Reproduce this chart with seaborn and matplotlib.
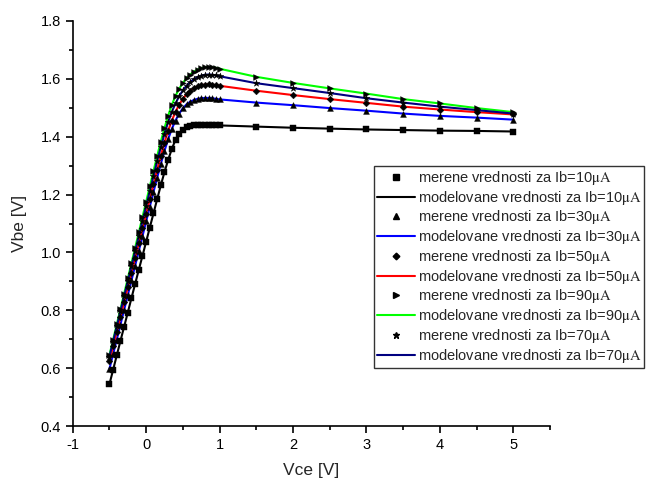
import matplotlib
matplotlib.use("Agg")
import matplotlib.pyplot as plt
from matplotlib.lines import Line2D
import seaborn as sns
import pandas as pd

# Vce [V]
vce = [-0.5, -0.45, -0.4, -0.35, -0.3, -0.25, -0.2, -0.15, -0.1, -0.05,
       0.0, 0.05, 0.1, 0.15, 0.2, 0.25, 0.3, 0.35, 0.4, 0.45,
       0.5, 0.55, 0.6, 0.65, 0.7, 0.75, 0.8, 0.85, 0.9, 0.95, 1.0,
       1.5, 2.0, 2.5, 3.0, 3.5, 4.0, 4.5, 5.0]

vbe_10 = [0.544, 0.594, 0.644, 0.694, 0.743, 0.792, 0.842, 0.891, 0.940, 0.988,
          1.037, 1.086, 1.135, 1.184, 1.232, 1.278, 1.320, 1.358, 1.389, 1.410,
          1.424, 1.432, 1.437, 1.439, 1.440, 1.441, 1.441, 1.441, 1.440, 1.440, 1.439,
          1.435, 1.431, 1.428, 1.425, 1.423, 1.421, 1.420, 1.418]
vbe_30 = [0.597, 0.648, 0.699, 0.750, 0.801, 0.852, 0.903, 0.954, 1.005, 1.056,
          1.107, 1.158, 1.209, 1.258, 1.306, 1.351, 1.392, 1.427, 1.456, 1.480,
          1.498, 1.512, 1.521, 1.527, 1.531, 1.533, 1.534, 1.534, 1.533, 1.531, 1.529,
          1.518, 1.509, 1.499, 1.490, 1.480, 1.472, 1.466, 1.459]
vbe_50 = [0.624, 0.675, 0.726, 0.777, 0.828, 0.879, 0.930, 0.981, 1.032, 1.083,
          1.134, 1.185, 1.236, 1.286, 1.334, 1.380, 1.421, 1.456, 1.486, 1.511,
          1.531, 1.547, 1.559, 1.568, 1.574, 1.578, 1.580, 1.581, 1.580, 1.578, 1.576,
          1.559, 1.544, 1.530, 1.517, 1.504, 1.494, 1.485, 1.477]
vbe_90 = [0.645, 0.698, 0.751, 0.804, 0.857, 0.910, 0.963, 1.016, 1.069, 1.122,
          1.175, 1.228, 1.281, 1.333, 1.383, 1.430, 1.473, 1.510, 1.541, 1.566,
          1.586, 1.602, 1.615, 1.625, 1.632, 1.637, 1.640, 1.641, 1.640, 1.638, 1.635,
          1.607, 1.586, 1.567, 1.549, 1.530, 1.515, 1.499, 1.485]
vbe_70 = [0.640, 0.692, 0.744, 0.796, 0.848, 0.900, 0.952, 1.004, 1.056, 1.108,
          1.160, 1.212, 1.264, 1.315, 1.364, 1.410, 1.451, 1.486, 1.515, 1.540,
          1.560, 1.576, 1.589, 1.599, 1.606, 1.611, 1.614, 1.615, 1.614, 1.612, 1.609,
          1.585, 1.568, 1.551, 1.533, 1.518, 1.504, 1.492, 1.480]

currents = ["10", "30", "50", "90", "70"]
series = [vbe_10, vbe_30, vbe_50, vbe_90, vbe_70]
markers = ["s", "^", "D", ">", "*"]
msizes = [4.2, 4.2, 3.4, 4.2, 5.0]
line_colors = ["#000000", "#0000FF", "#FF0000", "#00FF00", "#000080"]

sns.set_style("ticks")
plt.rcParams["font.family"] = ["Liberation Sans", "DejaVu Sans"]
plt.rcParams["mathtext.fontset"] = "stix"

fig = plt.figure(figsize=(6.48, 4.84), dpi=100)
ax = fig.add_axes([72.7 / 648, 1 - 426 / 484, (550 - 72.7) / 648, (426 - 21) / 484])

handles, labels = [], []
for cur, vals, mk, ms, col in zip(currents, series, markers, msizes, line_colors):
    df = pd.DataFrame({"Vce": vce, "Vbe": vals})
    sns.scatterplot(data=df, x="Vce", y="Vbe", ax=ax, marker=mk, color="black",
                    s=ms ** 2, edgecolor="black", linewidth=0.3, zorder=3)
    sns.lineplot(data=df, x="Vce", y="Vbe", ax=ax, color=col, linewidth=1.5,
                 sort=False, estimator=None, zorder=2)
    handles.append(Line2D([], [], linestyle="none", marker=mk, color="black",
                          markersize=ms))
    labels.append("merene vrednosti za Ib=" + cur + r"$\mathrm{\mu A}$")
    handles.append(Line2D([], [], color=col, linewidth=1.5))
    labels.append("modelovane vrednosti za Ib=" + cur + r"$\mathrm{\mu A}$")

ax.set_xlim(-1, 5.5)
ax.set_ylim(0.4, 1.8)
ax.set_xticks([-1, 0, 1, 2, 3, 4, 5])
ax.set_xticklabels(["-1", "0", "1", "2", "3", "4", "5"])
ax.set_yticks([0.4, 0.6, 0.8, 1.0, 1.2, 1.4, 1.6, 1.8])
ax.set_yticklabels(["0.4", "0.6", "0.8", "1.0", "1.2", "1.4", "1.6", "1.8"])
ax.set_xticks([-0.5, 0.5, 1.5, 2.5, 3.5, 4.5, 5.5], minor=True)
ax.set_yticks([0.5, 0.7, 0.9, 1.1, 1.3, 1.5, 1.7], minor=True)
ax.tick_params(which="major", direction="out", length=5, width=1.2, labelsize=10.5,
               color="black", labelcolor="black")
ax.tick_params(which="minor", direction="out", length=3, width=1.2, color="black")
for s in ["left", "bottom"]:
    ax.spines[s].set_linewidth(1.2)
    ax.spines[s].set_color("black")
sns.despine(ax=ax)

ax.set_xlabel("Vce [V]", fontsize=12.5, labelpad=8)
ax.set_ylabel("Vbe [V]", fontsize=12.5, labelpad=10)

leg = ax.legend(handles, labels, loc="upper left",
                bbox_to_anchor=(374 / 648, 1 - 166 / 484),
                bbox_transform=fig.transFigure, frameon=True, fancybox=False,
                edgecolor="black", fontsize=10.5, handlelength=2.6,
                handletextpad=0.2, labelspacing=0.12, borderpad=0.2,
                borderaxespad=0)
leg.get_frame().set_linewidth(1.0)

fig.savefig("out.png", dpi=100)
